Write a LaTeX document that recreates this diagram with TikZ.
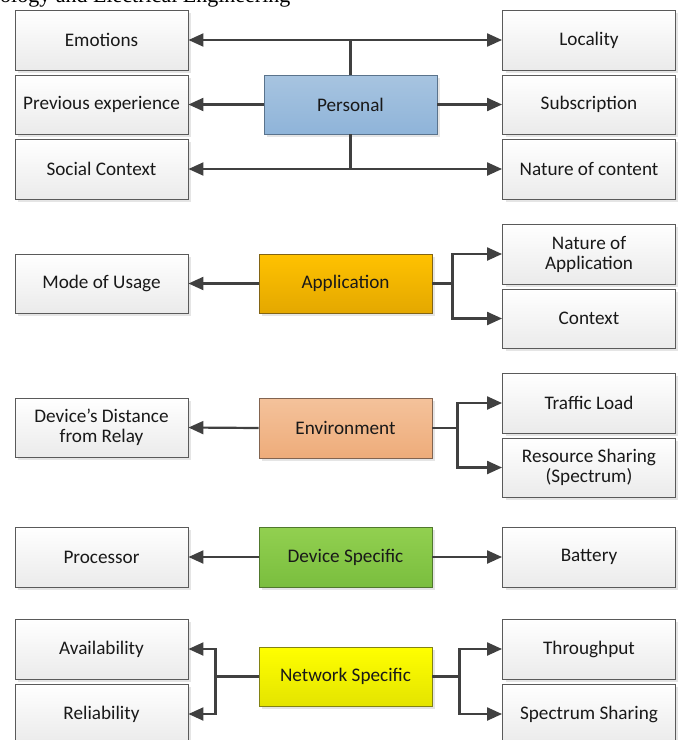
\documentclass[tikz,border=0pt]{standalone}
\usepackage{fontspec}
\setmainfont{Carlito}
\newfontfamily\hdrfont{Liberation Serif}
\usetikzlibrary{arrows.meta,shadows}
\definecolor{arrgray}{HTML}{404040}
\definecolor{boxedge}{HTML}{5A5A5A}
\begin{document}
\begin{tikzpicture}[x=1pt,y=-1pt,
  base/.style={draw=boxedge, line width=0.9pt, minimum height=59pt, inner sep=2pt,
    align=center, font=\fontsize{19.2}{20}\selectfont, text=black!90,
    drop shadow={shadow xshift=3pt, shadow yshift=-3pt, fill=black!10, opacity=1}},
  leaf/.style={base, minimum width=173pt, top color=white, bottom color=black!8},
  hub/.style={base, minimum width=173pt},
  arr/.style={draw=arrgray, line width=2.2pt, -{Triangle[length=15pt,width=13pt]}},
  ln/.style={draw=arrgray, line width=2.2pt}]
\useasboundingbox (0,0) rectangle (678,740);
\node[anchor=base west, font=\hdrfont\fontsize{22}{24}\selectfont, inner sep=0pt] (hdr) at (0,2.5) {ology and Electrical Engineering};

% Personal
\node[leaf, minimum height=60pt] (emo) at (101.5,40) {Emotions};
\node[leaf] (prev) at (101.5,104.5) {Previous experience};
\node[leaf, minimum height=60pt] (soc) at (101.5,169) {Social Context};
\node[leaf, minimum height=60pt] (loc) at (589,40) {Locality};
\node[leaf] (sub) at (589,104.5) {Subscription};
\node[leaf, minimum height=60pt] (nat) at (589,169) {Nature of content};
\node[hub, draw={rgb,255:red,90;green,115;blue,140}, top color={rgb,255:red,167;green,196;blue,224}, bottom color={rgb,255:red,143;green,180;blue,217}] (pers) at (350.5,104.5) {Personal};
\draw[arr] (pers.north) |- (emo.east);
\draw[arr] (pers.north) |- (loc.west);
\draw[arr] (pers.south) |- (soc.east);
\draw[arr] (pers.south) |- (nat.west);
\draw[arr] (pers.west) -- (prev.east);
\draw[arr] (pers.east) -- (sub.west);

% Application
\node[leaf] (mode) at (101.5,283.5) {Mode of Usage};
\node[leaf, minimum height=60pt] (napp) at (589,254) {Nature of\\Application};
\node[leaf] (ctx) at (589,318.5) {Context};
\node[hub, draw={rgb,255:red,130;green,100;blue,20}, top color={rgb,255:red,255;green,194;blue,0}, bottom color={rgb,255:red,228;green,168;blue,0}] (app) at (345.5,283.5) {Application};
\draw[arr] (app.west) -- (mode.east);
\draw[arr] (app.east) -- ++(20,0) |- (napp.west);
\draw[arr] (app.east) -- ++(20,0) |- (ctx.west);

% Environment
\node[leaf] (dist) at (101.5,427.5) {Device’s Distance\\from Relay};
\node[leaf, minimum height=60pt] (traf) at (589,403) {Traffic Load};
\node[leaf] (res) at (589,467.5) {Resource Sharing\\(Spectrum)};
\node[hub, minimum height=60pt, draw={rgb,255:red,130;green,100;blue,80}, top color={rgb,255:red,244;green,194;blue,155}, bottom color={rgb,255:red,238;green,172;blue,122}] (env) at (345.5,428) {Environment};
\draw[arr] (env.west) -- (dist.east);
\draw[arr] (env.east) -- ++(25,0) |- (traf.west);
\draw[arr] (env.east) -- ++(25,0) |- (res.west);

% Device specific
\node[leaf, minimum height=60pt] (proc) at (101.5,557) {Processor};
\node[leaf, minimum height=60pt] (bat) at (589,557) {Battery};
\node[hub, minimum height=60pt, draw={rgb,255:red,80;green,120;blue,45}, top color={rgb,255:red,146;green,208;blue,80}, bottom color={rgb,255:red,122;green,190;blue,62}] (dev) at (345.5,557) {Device Specific};
\draw[arr] (dev.west) -- (proc.east);
\draw[arr] (dev.east) -- (bat.west);

% Network specific
\node[leaf, minimum height=60pt] (avail) at (101.5,649) {Availability};
\node[leaf, minimum height=60pt] (rel) at (101.5,714) {Reliability};
\node[leaf, minimum height=60pt] (thr) at (589,649) {Throughput};
\node[leaf, minimum height=60pt] (spec) at (589,714) {Spectrum Sharing};
\node[hub, draw={rgb,255:red,130;green,130;blue,20}, top color={rgb,255:red,255;green,255;blue,0}, bottom color={rgb,255:red,228;green,228;blue,0}] (net) at (345.5,676.5) {Network Specific};
\draw[arr] (net.west) -- ++(-43,0) |- (avail.east);
\draw[arr] (net.west) -- ++(-43,0) |- (rel.east);
\draw[arr] (net.east) -- ++(27,0) |- (thr.west);
\draw[arr] (net.east) -- ++(27,0) |- (spec.west);
\end{tikzpicture}
\end{document}
